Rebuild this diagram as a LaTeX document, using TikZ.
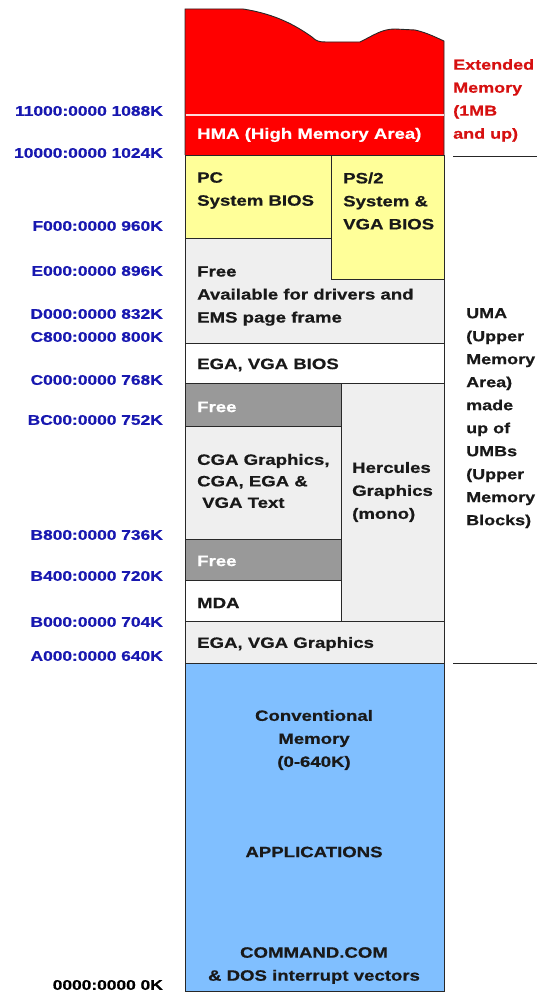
\documentclass[tikz,border=0pt]{standalone}
\usepackage{fontspec}
\setmainfont{Liberation Sans}[FakeStretch=1.24,BoldFeatures={FakeBold=0.6}]
\definecolor{addrblue}{RGB}{24,24,176}
\definecolor{extred}{RGB}{214,16,16}
\definecolor{memred}{RGB}{255,0,0}
\definecolor{biosyellow}{RGB}{255,255,153}
\definecolor{freegray}{RGB}{239,239,239}
\definecolor{darkfree}{RGB}{153,153,153}
\definecolor{convblue}{RGB}{128,191,255}
\definecolor{edge}{RGB}{40,40,40}
\begin{document}
\begin{tikzpicture}[x=1pt,y=-1pt,
  region/.style={draw=edge,line width=0.9pt},
  txt/.style={font=\fontsize{15}{23}\selectfont\bfseries,anchor=west,inner sep=0,align=left,text=black!90},
  ctxt/.style={font=\fontsize{15}{23}\selectfont\bfseries,inner sep=0,align=center,text=black!90},
  addr/.style={font=\fontsize{14}{16}\selectfont\bfseries,text=addrblue,anchor=east,inner sep=0},
  side/.style={font=\fontsize{14.5}{23}\selectfont\bfseries,anchor=north west,inner sep=0,align=left}]
\useasboundingbox (0,0) rectangle (545,992);
% extended memory (red) with wavy top
\fill[memred] (185,9) -- (243,9) .. controls (275,14) and (295,25) .. (312,37)
  .. controls (316,41) and (319,42) .. (326,42) -- (360,42)
  .. controls (374,35) and (382,29) .. (395,29) -- (415,30)
  .. controls (428,33) and (437,38) .. (444,41) -- (444,155) -- (185,155) -- cycle;
\draw[edge,line width=0.9pt] (185,155) -- (185,9) -- (243,9) .. controls (275,14) and (295,25) .. (312,37)
  .. controls (316,41) and (319,42) .. (326,42) -- (360,42)
  .. controls (374,35) and (382,29) .. (395,29) -- (415,30)
  .. controls (428,33) and (437,38) .. (444,41) -- (444,155);
\draw[white!85!memred,line width=1.2pt] (185.5,115) -- (443.5,115);
% BIOS areas
\filldraw[region,fill=freegray] (185,238) rectangle (444,343);
\filldraw[region,fill=biosyellow] (185,155) rectangle (331,238);
\filldraw[region,fill=biosyellow] (331,155) rectangle (444,279);
\filldraw[region,fill=white] (185,343) rectangle (444,383);
% video areas
\filldraw[region,fill=darkfree] (185,383) rectangle (341,426);
\filldraw[region,fill=freegray] (185,426) rectangle (341,539);
\filldraw[region,fill=darkfree] (185,539) rectangle (341,580);
\filldraw[region,fill=white] (185,580) rectangle (341,621);
\filldraw[region,fill=freegray] (341,383) rectangle (444,621);
\filldraw[region,fill=freegray] (185,621) rectangle (444,663);
% conventional
\filldraw[region,fill=convblue] (185,663) rectangle (444,991);
% texts in the column
\node[txt,text=white] (hma) at (197,135) {HMA (High Memory Area)};
\node[txt] (pc) at (197,190.5) {PC\\System BIOS};
\node[txt] (ps2) at (343,201) {PS/2\\System \&\\VGA BIOS};
\node[txt] (free1) at (197,296) {Free\\Available for drivers and\\EMS page frame};
\node[txt] (egabios) at (197,365) {EGA, VGA BIOS};
\node[txt,text=white] (free2) at (197,407) {Free};
\node[txt,font=\fontsize{15}{21.5}\selectfont\bfseries] (cga) at (197,481) {CGA Graphics,\\CGA, EGA \&\\\hspace*{5pt}VGA Text};
\node[txt] (herc) at (352,492) {Hercules\\Graphics\\(mono)};
\node[txt,text=white] (free3) at (197,561) {Free};
\node[txt] (mda) at (197,603) {MDA};
\node[txt] (egagfx) at (197,644) {EGA, VGA Graphics};
\node[ctxt] (conv) at (314,740) {Conventional\\Memory\\(0-640K)};
\node[ctxt] (apps) at (314,852) {APPLICATIONS};
\node[ctxt] (cmd) at (314,965.5) {COMMAND.COM\\\& DOS interrupt vectors};
% address labels
\node[addr] (a1088) at (163,111) {11000:0000 1088K};
\node[addr] (a1024) at (163,153) {10000:0000 1024K};
\node[addr] (a960) at (163,226) {F000:0000 960K};
\node[addr] (a896) at (163,271) {E000:0000 896K};
\node[addr] (a832) at (163,314) {D000:0000 832K};
\node[addr] (a800) at (163,337) {C800:0000 800K};
\node[addr] (a768) at (163,380) {C000:0000 768K};
\node[addr] (a752) at (163,420) {BC00:0000 752K};
\node[addr] (a736) at (163,535) {B800:0000 736K};
\node[addr] (a720) at (163,576) {B400:0000 720K};
\node[addr] (a704) at (163,622) {B000:0000 704K};
\node[addr] (a640) at (163,656) {A000:0000 640K};
\node[addr,text=black] (a0) at (163,985) {0000:0000 0K};
% right side labels
\node[side,text=extred] (ext) at (453,59) {Extended\\Memory\\(1MB\\and up)};
\node[side,text=black!90] (uma) at (466,308) {UMA\\(Upper\\Memory\\Area)\\made\\up of\\UMBs\\(Upper\\Memory\\Blocks)};
\coordinate (l1a) at (453,157); \coordinate (l1b) at (537,157);
\coordinate (l2a) at (453,663); \coordinate (l2b) at (537,663);
\draw[black!85,line width=1pt] (l1a) -- (l1b);
\draw[black!85,line width=1pt] (l2a) -- (l2b);
\end{tikzpicture}
\end{document}
